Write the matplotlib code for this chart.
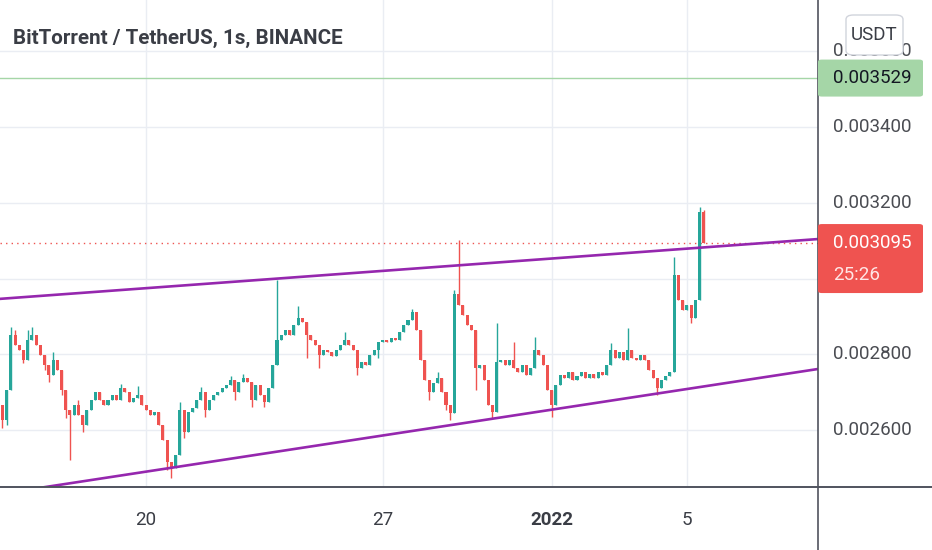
import matplotlib
matplotlib.use('Agg')
import matplotlib.pyplot as plt
from matplotlib import font_manager as fm
from matplotlib.patches import FancyBboxPatch
from matplotlib.lines import Line2D
import numpy as np
import pandas as pd

# ---------------- data (prices in micro-USDT, i.e. x 1e-6) ----------------
first_open_u = 2693
close_u = [
    2666, 2627, 2706, 2851, 2825, 2812, 2785, 2838, 2851, 2825,
    2798, 2772, 2746, 2785, 2759, 2706, 2653, 2640, 2666, 2640,
    2614, 2653, 2680, 2701, 2680, 2666, 2680, 2693, 2680, 2711,
    2701, 2674, 2685, 2693, 2666, 2653, 2640, 2648, 2614, 2574,
    2516, 2500, 2535, 2653, 2595, 2648, 2658, 2680, 2701, 2653,
    2680, 2693, 2701, 2711, 2719, 2732, 2701, 2727, 2738, 2727,
    2680, 2719, 2693, 2674, 2711, 2772, 2838, 2851, 2864, 2851,
    2878, 2896, 2886, 2851, 2838, 2825, 2798, 2812, 2806, 2796,
    2812, 2825, 2838, 2825, 2812, 2764, 2780, 2772, 2798, 2812,
    2833, 2838, 2833, 2843, 2838, 2859, 2878, 2891, 2912, 2864,
    2785, 2732, 2701, 2725, 2738, 2701, 2666, 2645, 2960, 2930,
    2904, 2878, 2864, 2764, 2772, 2732, 2666, 2648, 2780, 2785,
    2772, 2785, 2764, 2754, 2772, 2746, 2764, 2812, 2798, 2772,
    2706, 2666, 2719, 2746, 2738, 2754, 2732, 2743, 2754, 2738,
    2748, 2738, 2754, 2746, 2772, 2812, 2791, 2806, 2785, 2812,
    2791, 2785, 2798, 2785, 2759, 2738, 2711, 2732, 2743, 2754,
    3010, 2944, 2917, 2930, 2896, 2944, 3176, 3095,
]
wick_high_u = {3: 2872, 4: 2864, 7: 2864, 8: 2872, 13: 2806, 19: 2680, 29: 2722,
               33: 2717, 43: 2674, 48: 2714, 55: 2743, 58: 2748, 66: 2996, 71: 2928,
               82: 2859, 98: 2920, 104: 2754, 108: 2970, 109: 3102, 118: 2883,
               122: 2833, 127: 2846, 145: 2830, 149: 2870, 160: 3057, 166: 3189,
               167: 3181}
wick_low_u = {1: 2606, 2: 2614, 6: 2777, 11: 2759, 12: 2727, 15: 2693, 16: 2632,
              17: 2521, 20: 2595, 40: 2495, 41: 2474, 44: 2579, 49: 2635, 56: 2680,
              60: 2661, 63: 2661, 73: 2791, 76: 2764, 85: 2746, 90: 2791, 102: 2680,
              106: 2653, 107: 2627, 113: 2706, 117: 2632, 131: 2635, 156: 2693,
              164: 2883}
first_candle = '2021-12-15 15:00'
candle_freq = '3h'

upper_line = [('2021-12-15 00:00', 2942), ('2022-01-09 00:00', 3105)]
lower_line = [('2021-12-16 00:00', 2436), ('2022-01-09 00:00', 2763)]

last_price = 0.003095
countdown = '25:26'
alert_price = 0.003529

grid_prices = [0.0026, 0.0028, 0.0030, 0.0032, 0.0034, 0.0036]
# 0.003000 is hidden behind the last-price label in the reference
price_label_values = [0.0026, 0.0028, 0.0032, 0.0034, 0.0036]
price_label_texts = ['0.002600', '0.002800', '0.003200', '0.003400', '0.003600']
time_ticks = ['2021-12-20', '2021-12-27', '2022-01-01', '2022-01-05']
time_tick_labels = ['20', '27', '2022', '5']
time_tick_bold = [False, False, True, False]

title = 'BitTorrent / TetherUS, 1s, BINANCE'
currency = 'USDT'

# ---------------- fonts ----------------
_names = {f.name for f in fm.fontManager.ttflist}
if 'Liberation Sans Narrow' in _names:
    FONT = ['Liberation Sans Narrow', 'DejaVu Sans']
    FS_AX, FS_TITLE, FS_TIME = 16.5, 18.0, 16.5
else:
    FONT = ['Roboto', 'DejaVu Sans']
    FS_AX, FS_TITLE, FS_TIME = 13.5, 14.9, 13.5
plt.rcParams['font.family'] = FONT

# ---------------- derived series ----------------
U = 1e-6
ref = pd.Timestamp('2022-01-01')
times = pd.date_range(first_candle, periods=len(close_u), freq=candle_freq)
xd = np.asarray((times - ref) / pd.Timedelta('1D'), dtype=float)
c = np.array(close_u, dtype=float) * U
o = np.concatenate([[first_open_u * U], c[:-1]])
hi = np.maximum(o, c)
lo = np.minimum(o, c)
for k, v in wick_high_u.items():
    hi[k] = max(hi[k], v * U)
for k, v in wick_low_u.items():
    lo[k] = min(lo[k], v * U)

GREEN = '#26a69a'
RED = '#ef5350'
cols = np.where(c >= o, GREEN, RED)

def day(s):
    return (pd.Timestamp(s) - ref) / pd.Timedelta('1D')

# ---------------- figure ----------------
W, H = 932, 550
fig = plt.figure(figsize=(W / 100, H / 100), dpi=100)
fig.patch.set_facecolor('white')
AX_R, AX_B = 818, 487
ax = fig.add_axes([0, (H - AX_B) / H, AX_R / W, AX_B / H])
ax.set_facecolor('white')

ax.set_xlim(-16.32, 7.88)
ax.set_ylim(0.002450, 0.003735)

for s in ax.spines.values():
    s.set_visible(False)
ax.set_yticks(grid_prices)
ax.set_xticks([day(t) for t in time_ticks])
ax.tick_params(length=0, labelleft=False, labelbottom=False)
ax.grid(True, color='#eaedf3', linewidth=1.0, zorder=0)
ax.set_axisbelow(True)

# candles
step = 1 / 8
ax.vlines(xd, lo, hi, colors=cols, linewidth=1.0, zorder=3)
body_h = np.maximum(np.abs(c - o), 1.5e-6)
ax.bar(xd, body_h, bottom=np.minimum(o, c), width=step * 0.72, color=cols,
       linewidth=0, zorder=3)

# last price dotted line, alert line
ax.axhline(last_price, color=RED, linewidth=1.0, linestyle=(0, (1, 3)), zorder=2)
ax.axhline(alert_price, color='#a5d6a7', linewidth=1.0, zorder=2)

# trend lines
for line in (upper_line, lower_line):
    ax.plot([day(line[0][0]), day(line[1][0])], [line[0][1] * U, line[1][1] * U],
            color='#9527ae', linewidth=1.9, zorder=4, solid_capstyle='butt')

# frame lines (full width bottom, full height right)
fig.add_artist(Line2D([0, 1], [(H - AX_B) / H] * 2, transform=fig.transFigure,
                      color='#50535e', linewidth=1.4))
fig.add_artist(Line2D([AX_R / W] * 2, [0, 1], transform=fig.transFigure,
                      color='#50535e', linewidth=1.2))

# title
fig.text(13 / W, 1 - 38 / H, title, ha='left', va='center', fontsize=FS_TITLE,
         fontweight='bold', color='#3a3d45')

# price axis labels
ytr = ax.get_yaxis_transform()
for p, lab in zip(price_label_values, price_label_texts):
    ax.text(833 / AX_R, p, lab, transform=ytr, ha='left', va='center',
            fontsize=FS_AX, color='#4a4c52', clip_on=False, zorder=5)

# time axis labels
for t, lab, b in zip(time_ticks, time_tick_labels, time_tick_bold):
    ax.text(day(t), -33 / AX_B, lab, transform=ax.get_xaxis_transform(),
            ha='center', va='center', fontsize=FS_TIME, color='#3a3d45',
            fontweight='bold' if b else 'normal', clip_on=False)

fig.canvas.draw()

def price_fig_y(p):
    return ax.transData.transform((0, p))[1] / fig.bbox.height

px_h = 1 / H

# green alert label
gy = price_fig_y(alert_price)
fig.add_artist(FancyBboxPatch((AX_R / W, gy - 18.5 * px_h), 105 / W, 37 * px_h,
                              boxstyle='round,pad=0,rounding_size=0.004',
                              transform=fig.transFigure, facecolor='#a5d6a7',
                              edgecolor='none', zorder=6))
fig.text(833 / W, gy, f'{alert_price:.6f}', ha='left', va='center',
         fontsize=FS_AX, color='#131722', zorder=7)

# red last-price label
ry = price_fig_y(last_price)
fig.add_artist(FancyBboxPatch((AX_R / W, ry - 50.5 * px_h), 105 / W, 69 * px_h,
                              boxstyle='round,pad=0,rounding_size=0.004',
                              transform=fig.transFigure, facecolor=RED,
                              edgecolor='none', zorder=6))
fig.text(833 / W, ry, f'{last_price:.6f}', ha='left', va='center',
         fontsize=FS_AX, color='white', zorder=7)
fig.text(833 / W, ry - 32 * px_h, countdown, ha='left', va='center',
         fontsize=FS_AX, color='#ffe5e5', zorder=7)

# currency box
fig.add_artist(FancyBboxPatch((846 / W, 1 - 55 / H), 57 / W, 40 / H,
                              boxstyle='round,pad=0,rounding_size=0.008',
                              transform=fig.transFigure, facecolor='white',
                              edgecolor='#d1d4dc', linewidth=1.0, zorder=6))
fig.text(874.5 / W, 1 - 35 / H, currency, ha='center', va='center',
         fontsize=FS_AX, color='#3a3d45', zorder=7)

fig.savefig('out.png', dpi=100, facecolor='white')
